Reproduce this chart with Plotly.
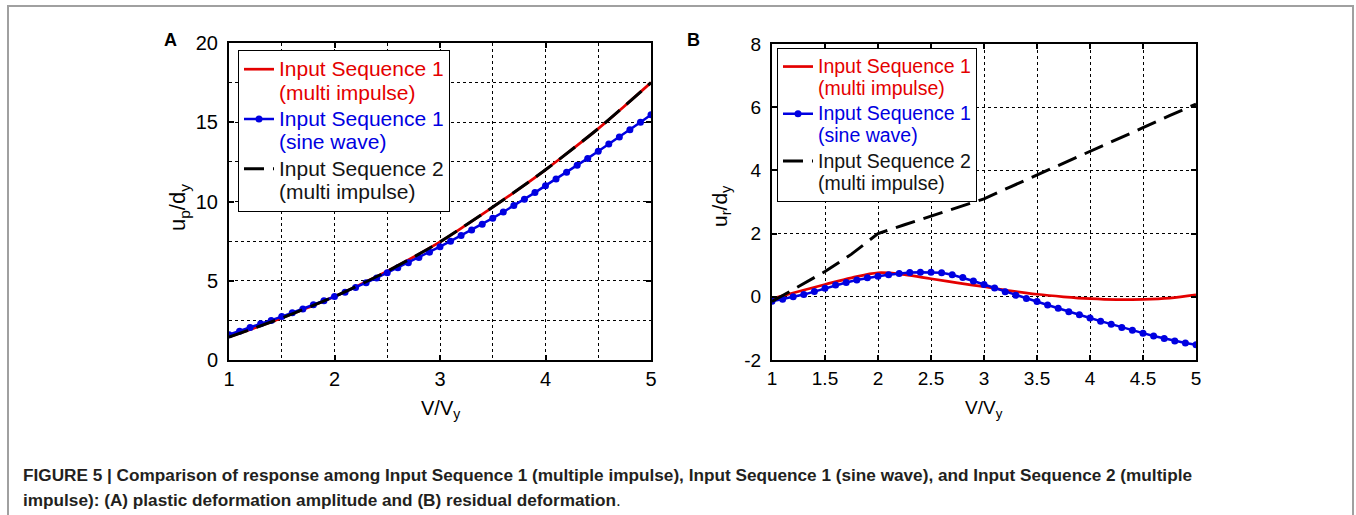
import plotly.graph_objects as go

# ---------------- data ----------------
# Panel A (plastic deformation amplitude)
v_coarse = [1.0, 1.25, 1.5, 1.75, 2.0, 2.25, 2.5, 2.75, 3.0, 3.25, 3.5, 3.75, 4.0, 4.25, 4.5, 4.75, 5.0]
a_seq1_multi = [1.45, 2.03, 2.65, 3.31, 4.0, 4.78, 5.6, 6.5, 7.45, 8.53, 9.65, 10.8, 12.0, 13.28, 14.6, 16.03, 17.5]
a_seq2_multi = [1.45, 2.03, 2.65, 3.31, 4.0, 4.78, 5.6, 6.5, 7.45, 8.53, 9.65, 10.8, 12.0, 13.28, 14.6, 16.03, 17.5]

v_fine = [1.0, 1.1, 1.2, 1.3, 1.4, 1.5, 1.6, 1.7, 1.8, 1.9,
          2.0, 2.1, 2.2, 2.3, 2.4, 2.5, 2.6, 2.7, 2.8, 2.9,
          3.0, 3.1, 3.2, 3.3, 3.4, 3.5, 3.6, 3.7, 3.8, 3.9,
          4.0, 4.1, 4.2, 4.3, 4.4, 4.5, 4.6, 4.7, 4.8, 4.9, 5.0]
a_seq1_sine = [1.60, 1.82, 2.05, 2.28, 2.50, 2.74, 2.98, 3.22, 3.48, 3.74,
               4.00, 4.28, 4.58, 4.88, 5.18, 5.50, 5.82, 6.14, 6.47, 6.80,
               7.15, 7.50, 7.85, 8.20, 8.57, 8.95, 9.34, 9.74, 10.14, 10.56,
               11.00, 11.42, 11.85, 12.28, 12.72, 13.17, 13.62, 14.07, 14.53, 15.00, 15.48]

# Panel B (residual deformation)
b_seq1_multi = [-0.06, 0.17, 0.39, 0.60, 0.76, 0.70, 0.57, 0.44, 0.32, 0.19, 0.08, 0.0, -0.06, -0.09, -0.08, -0.04, 0.06]
b_seq2_multi = [-0.15, 0.33, 0.80, 1.35, 2.0, 2.28, 2.55, 2.83, 3.1, 3.48, 3.85, 4.23, 4.6, 4.98, 5.35, 5.73, 6.1]
b_seq1_sine = [-0.14, -0.08, 0.00, 0.07, 0.17, 0.27, 0.37, 0.45, 0.53, 0.60,
               0.65, 0.70, 0.74, 0.77, 0.78, 0.78, 0.76, 0.70, 0.61, 0.50,
               0.39, 0.28, 0.16, 0.05, -0.05, -0.15, -0.26, -0.36, -0.47, -0.57,
               -0.67, -0.77, -0.87, -0.97, -1.06, -1.15, -1.24, -1.32, -1.40, -1.46, -1.52]

a_xticks = [1, 2, 3, 4, 5]
a_xticktext = ["1", "2", "3", "4", "5"]
a_yticks = [0, 5, 10, 15, 20]
a_yticktext = ["0", "5", "10", "15", "20"]
b_xticks = [1, 1.5, 2, 2.5, 3, 3.5, 4, 4.5, 5]
b_xticktext = ["1", "1.5", "2", "2.5", "3", "3.5", "4", "4.5", "5"]
b_yticks = [-2, 0, 2, 4, 6, 8]
b_yticktext = ["-2", "0", "2", "4", "6", "8"]

names = [
    ("rgb(228,0,0)", "Input Sequence 1", "(multi impulse)"),
    ("rgb(0,0,225)", "Input Sequence 1", "(sine wave)"),
    ("rgb(20,20,20)", "Input Sequence 2", "(multi impulse)"),
]
caption1 = "FIGURE 5 | Comparison of response among Input Sequence 1 (multiple impulse), Input Sequence 1 (sine wave), and Input Sequence 2 (multiple"
caption2 = "impulse): (A) plastic deformation amplitude and (B) residual deformation"

# ---------------- figure ----------------
W, H = 1356, 515
FONT = "Liberation Sans, Arial, Helvetica, sans-serif"
RED = "rgb(228,0,0)"
BLUE = "rgb(0,0,225)"
BLACK = "black"


def lname(i, px):
    c, l1, l2 = names[i]
    st = f"color:{c};font-size:{px}px"
    return f'<span style="{st}">{l1}</span><br><span style="{st}">{l2}</span>'


fig = go.Figure()
# Panel A
fig.add_trace(go.Scatter(x=v_coarse, y=a_seq1_multi, mode="lines", line=dict(color=RED, width=2.7, shape="spline"),
                         name=lname(0, 21), xaxis="x", yaxis="y", legend="legend"))
fig.add_trace(go.Scatter(x=v_fine, y=a_seq1_sine, mode="lines+markers", line=dict(color=BLUE, width=2.5),
                         marker=dict(color=BLUE, size=7), name=lname(1, 21), xaxis="x", yaxis="y", legend="legend"))
fig.add_trace(go.Scatter(x=v_coarse, y=a_seq2_multi, mode="lines", line=dict(color=BLACK, width=3, dash="20px,9px", shape="spline"),
                         name=lname(2, 21), xaxis="x", yaxis="y", legend="legend"))
# Panel B
fig.add_trace(go.Scatter(x=v_coarse, y=b_seq1_multi, mode="lines", line=dict(color=RED, width=2.7, shape="spline"),
                         name=lname(0, 19.5), xaxis="x2", yaxis="y2", legend="legend2"))
fig.add_trace(go.Scatter(x=v_fine, y=b_seq1_sine, mode="lines+markers", line=dict(color=BLUE, width=2.5),
                         marker=dict(color=BLUE, size=7), name=lname(1, 19.5), xaxis="x2", yaxis="y2", legend="legend2"))
fig.add_trace(go.Scatter(x=v_coarse, y=b_seq2_multi, mode="lines", line=dict(color=BLACK, width=3, dash="20px,9px"),
                         name=lname(2, 19.5), xaxis="x2", yaxis="y2", legend="legend2"))

axis_common = dict(showline=True, linecolor="black", linewidth=2, mirror="ticks", ticks="inside", ticklen=5,
                   tickwidth=1.5, tickcolor="black", showgrid=True, gridcolor="black", griddash="dot", gridwidth=1,
                   zeroline=False, tickmode="array", automargin=False)

fig.update_layout(
    template="none",
    width=W, height=H, margin=dict(l=0, r=0, t=0, b=0, autoexpand=False), paper_bgcolor="white", plot_bgcolor="white",
    font=dict(family=FONT, color="black"),
    xaxis=dict(domain=[229 / W, 651 / W], range=[1, 5], anchor="y", tickvals=a_xticks, ticktext=a_xticktext,
               tickfont=dict(size=20), minor=dict(dtick=0.5, tick0=1, showgrid=True, gridcolor="black",
                                                   griddash="dot", gridwidth=1, ticks=""), **axis_common),
    yaxis=dict(domain=[1 - 360 / H, 1 - 43 / H], range=[0, 20], anchor="x", tickvals=a_yticks, ticktext=a_yticktext,
               tickfont=dict(size=20), ticklabelstandoff=5,
               minor=dict(dtick=2.5, tick0=0, showgrid=True, gridcolor="black", griddash="dot", gridwidth=1, ticks=""),
               **axis_common),
    xaxis2=dict(domain=[772 / W, 1196 / W], range=[1, 5], anchor="y2", tickvals=b_xticks, ticktext=b_xticktext,
                tickfont=dict(size=19), **axis_common),
    yaxis2=dict(domain=[1 - 360 / H, 1 - 44 / H], range=[-2, 8], anchor="x2", tickvals=b_yticks, ticktext=b_yticktext,
                tickfont=dict(size=19), ticklabelstandoff=5, **axis_common),
    legend=dict(x=238 / W, y=1 - 50 / H, xanchor="left", yanchor="top", bordercolor="black", borderwidth=1,
                bgcolor="white", font=dict(size=18, family=FONT), valign="top", itemwidth=30),
    legend2=dict(x=777 / W, y=1 - 48 / H, xanchor="left", yanchor="top", bordercolor="black", borderwidth=1,
                 bgcolor="white", font=dict(size=17, family=FONT), valign="top", itemwidth=30),
)

ann = []
# panel letters
ann.append(dict(text="<b>A</b>", x=170 / W, y=1 - 40 / H, xref="paper", yref="paper", showarrow=False,
                font=dict(size=18, family=FONT), xanchor="center", yanchor="middle"))
ann.append(dict(text="<b>B</b>", x=693 / W, y=1 - 40 / H, xref="paper", yref="paper", showarrow=False,
                font=dict(size=18, family=FONT), xanchor="center", yanchor="middle"))
# axis titles
ann.append(dict(text="u<sub>p</sub>/d<sub>y</sub>", x=179 / W, y=1 - 208 / H, xref="paper", yref="paper",
                showarrow=False, textangle=-90, font=dict(size=22, family=FONT), xanchor="center", yanchor="middle"))
ann.append(dict(text="u<sub>r</sub>/d<sub>y</sub>", x=721 / W, y=1 - 206 / H, xref="paper", yref="paper",
                showarrow=False, textangle=-90, font=dict(size=21, family=FONT), xanchor="center", yanchor="middle"))
ann.append(dict(text="V/V<sub>y</sub>", x=440 / W, y=1 - 409 / H, xref="paper", yref="paper",
                showarrow=False, font=dict(size=20, family=FONT), xanchor="center", yanchor="middle"))
ann.append(dict(text="V/V<sub>y</sub>", x=984 / W, y=1 - 409 / H, xref="paper", yref="paper",
                showarrow=False, font=dict(size=19, family=FONT), xanchor="center", yanchor="middle"))
# caption
CAPFONT = "Liberation Sans, Arial, sans-serif"
ann.append(dict(text=f"<b>{caption1}</b>", x=21 / W, y=1 - 475 / H, xref="paper", yref="paper", showarrow=False,
                font=dict(size=17.2, family=CAPFONT, color="rgb(35,31,32)"), xanchor="left", yanchor="middle"))
ann.append(dict(text=f"<b>{caption2}</b>.", x=21 / W, y=1 - 500 / H, xref="paper", yref="paper", showarrow=False,
                font=dict(size=17.2, family=CAPFONT, color="rgb(35,31,32)"), xanchor="left", yanchor="middle"))
fig.update_layout(annotations=ann)

# outer frame
fig.add_shape(type="rect", xref="paper", yref="paper", x0=8 / W, x1=1353 / W, y0=-0.2, y1=1 - 6 / H,
              line=dict(color="rgb(160,160,160)", width=2), layer="below")

fig.write_html("out.html")
